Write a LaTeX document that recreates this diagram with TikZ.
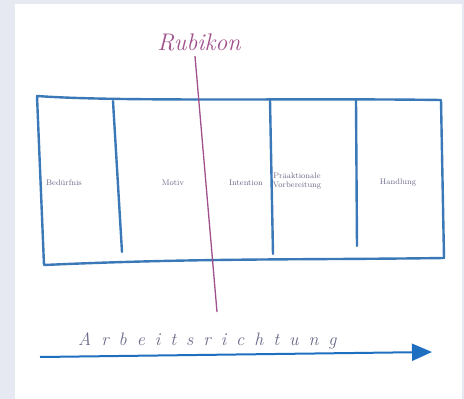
\documentclass[tikz,border=0pt]{standalone}
\usepackage{tikz}
\usetikzlibrary{arrows.meta,positioning,calc}

\definecolor{framebg}{HTML}{E6E9F1}
\definecolor{boxblue}{HTML}{3A78B8}
\definecolor{arrowblue}{HTML}{1F6FC0}
\definecolor{rubipink}{HTML}{A0508C}
\definecolor{labelgray}{HTML}{6A6A8A}

\newcommand{\gap}{\hspace{10pt}}

\begin{document}
\begin{tikzpicture}[x=1pt, y=-1pt, >=Latex]
  \tikzstyle{stage}=[font=\fontsize{8}{9}\selectfont, text=labelgray, align=center, inner sep=1pt]
  \tikzstyle{wall}=[draw=boxblue, line width=2.4pt, line cap=round, line join=round]
  % frame and panel
  \fill[framebg] (0,0) rectangle (464,399);
  \fill[white] (15,4) rectangle (462,399);
  \useasboundingbox (0,0) rectangle (464,399);
  % the box
  \coordinate (tl) at (37,96);
  \coordinate (tr) at (441,100);
  \coordinate (br) at (444,258);
  \coordinate (bl) at (44,265);
  \draw[wall] (tl) .. controls (120,102) and (300,98) .. (tr) -- (br)
    .. controls (300,260) and (200,258) .. (bl) -- cycle;
  \draw[wall] (113,101) -- (122,252);
  \draw[wall] (270,100) -- (273,254);
  \draw[wall] (356,100) -- (357,246);
  % stages
  \node[stage] (beduerfnis) at (64,183) {Bedürfnis};
  \node[stage] (motiv) at (173,183) {Motiv};
  \node[stage] (intention) at (246,183) {Intention};
  \node[stage] (praeakt) at (297,181) {Präaktionale\\Vorbereitung};
  \node[stage] (handlung) at (398,183) {Handlung};
  % Rubikon
  \node[text=rubipink, font=\fontsize{24}{28}\selectfont\itshape] (rubikon) at (199,42) {Rubikon};
  \coordinate (rubiend) at (217,312);
  \draw[rubipink, line width=1.3pt] (rubikon.south) ++(-4,2) -- (rubiend);
  % working direction
  \coordinate (start) at (40,357);
  \coordinate (stop) at (432,352);
  \draw[arrowblue, line width=2pt, -{Triangle[length=20pt, width=17pt]}] (start) -- (stop);
  \node[text=labelgray, font=\fontsize{18}{20}\selectfont\itshape, anchor=base west, inner sep=0pt] (richtung) at (78,345)
    {A\gap r\gap b\gap e\gap i\gap t\gap s\gap r\gap i\gap c\gap h\gap t\gap u\gap n\gap g};
\end{tikzpicture}
\end{document}
